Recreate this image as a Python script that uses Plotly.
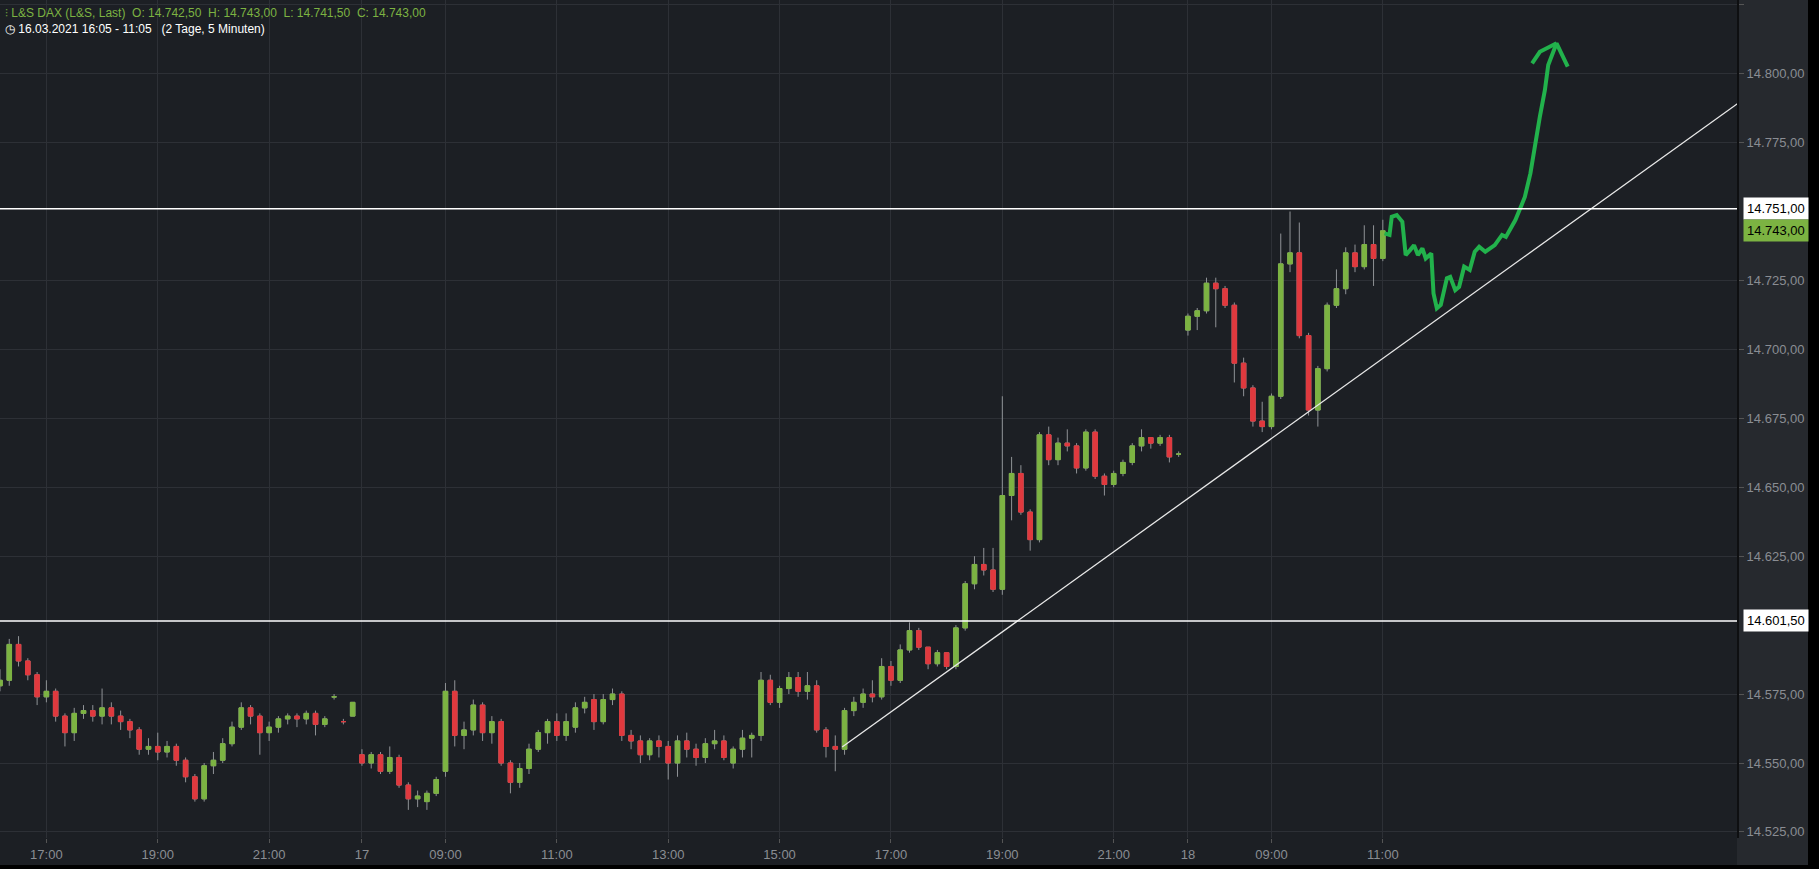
import plotly.graph_objects as go

# ---------------- data (10-minute candles) ----------------
day16_start = "16:10"
d16_open  = [14578,14580,14593,14587,14582,14574,14576,14567,14561,14568,14569,14567,14570,14567,14565,14562,14555,14556,14554,14556,14551,14545,14537,14549,14551,14557,14563,14570,14567,14561,14563,14566,14567,14566,14568,14564,14574,14565,14567]
d16_high  = [14584,14595,14596,14588,14583,14580,14577,14568,14570,14571,14571,14577,14572,14569,14566,14563,14559,14561,14558,14557,14552,14546,14550,14554,14559,14565,14572,14571,14568,14565,14567,14568,14568,14569,14569,14567,14575,14566,14572]
d16_low   = [14576,14578,14585,14580,14571,14572,14565,14556,14558,14566,14565,14564,14564,14562,14559,14553,14553,14551,14552,14549,14543,14536,14536,14546,14550,14556,14562,14564,14553,14558,14561,14564,14563,14564,14560,14563,14573,14564,14567]
d16_close = [14580,14593,14587,14582,14574,14576,14567,14561,14568,14569,14567,14570,14567,14565,14562,14555,14556,14554,14556,14551,14545,14537,14549,14551,14557,14563,14570,14567,14561,14563,14566,14567,14566,14568,14564,14566,14574,14565,14572]

day17_start = "07:30"
d17_open  = [14553,14550,14553,14547,14552,14542,14537,14536,14539,14547,14576,14560,14562,14571,14561,14565,14550,14543,14548,14555,14561,14565,14560,14563,14570,14573,14565,14573,14575,14560,14558,14553,14558,14556,14550,14558,14555,14552,14557,14558,14550,14555,14559,14560,14580,14572,14577,14581,14576,14578,
             14562,14556,14555,14569,14572,14575,14574,14585,14580,14591,14598,14592,14586,14590,14585,14599,14615,14622,14620,14613,14647,14655,14641,14631,14669,14660,14666,14665,14657,14670,14654,14651,14655,14659,14665,14668,14666,14668,14662]
d17_high  = [14555,14554,14554,14556,14553,14543,14540,14540,14545,14579,14580,14565,14573,14572,14567,14566,14551,14550,14557,14562,14566,14568,14568,14572,14574,14575,14575,14577,14576,14562,14560,14559,14560,14558,14560,14561,14557,14559,14562,14560,14556,14562,14561,14583,14582,14578,14583,14583,14583,14580,
             14563,14560,14570,14574,14577,14580,14588,14587,14593,14601,14599,14592,14591,14590,14600,14616,14625,14628,14628,14683,14661,14658,14642,14670,14672,14668,14671,14666,14671,14671,14655,14656,14660,14666,14671,14667,14669,14669,14663]
d17_low   = [14549,14548,14546,14546,14541,14533,14534,14533,14538,14545,14556,14555,14560,14558,14557,14549,14539,14541,14546,14554,14557,14558,14558,14561,14568,14562,14564,14571,14558,14555,14550,14551,14552,14544,14545,14552,14549,14550,14555,14551,14548,14552,14552,14558,14571,14570,14575,14574,14573,14561,
             14552,14547,14553,14567,14570,14572,14573,14578,14579,14590,14591,14584,14585,14584,14584,14598,14613,14618,14612,14611,14638,14640,14627,14630,14658,14658,14663,14655,14656,14653,14647,14650,14654,14658,14663,14664,14665,14659,14661]
d17_close = [14550,14553,14547,14552,14542,14537,14538,14539,14544,14576,14560,14562,14571,14561,14565,14550,14543,14548,14555,14561,14565,14560,14565,14570,14572,14565,14573,14575,14560,14558,14553,14558,14556,14550,14558,14555,14552,14557,14558,14552,14555,14559,14560,14580,14572,14577,14581,14576,14578,14562,
             14556,14555,14569,14572,14575,14574,14585,14580,14591,14598,14592,14586,14590,14585,14599,14615,14622,14620,14613,14647,14655,14641,14631,14669,14660,14666,14665,14657,14670,14654,14651,14655,14659,14665,14668,14666,14668,14661,14662]

day18_start = "07:30"
d18_open  = [14707,14712,14714,14724,14722,14716,14695,14686,14674,14672,14683,14731,14735,14705,14678,14693,14716,14722,14735,14730,14738,14733]
d18_high  = [14713,14715,14726,14726,14723,14717,14697,14687,14681,14684,14742,14750,14746,14706,14694,14717,14729,14737,14738,14745,14745,14747]
d18_low   = [14705,14707,14713,14708,14715,14688,14683,14672,14670,14671,14682,14728,14704,14676,14672,14692,14715,14720,14728,14729,14723,14732]
d18_close = [14712,14714,14724,14722,14716,14695,14686,14674,14672,14683,14731,14735,14705,14678,14693,14716,14722,14735,14730,14738,14733,14743]

tick_labels = ["17:00","19:00","21:00","17","09:00","11:00","13:00","15:00","17:00","19:00","21:00","18","09:00","11:00"]
tick_times  = [("16","17:00"),("16","19:00"),("16","21:00"),("17","07:30"),("17","09:00"),("17","11:00"),("17","13:00"),("17","15:00"),("17","17:00"),("17","19:00"),("17","21:00"),("18","07:30"),("18","09:00"),("18","11:00")]
y_ticks = [14525, 14550, 14575, 14625, 14650, 14675, 14700, 14725, 14775, 14800, 14825]

support_levels = [14751.0, 14601.5]
last_price = 14743.0
trend_p = [14.29, 30.38]
trend_v = [14555.8, 14789.3]
draw_p = [24.03,24.12,24.16,24.25,24.35,24.41,24.49,24.56,24.63,24.71,24.77,24.87,24.91,24.97,25.04,25.15,25.21,25.30,25.37,25.46,25.56,25.65,25.73,25.84,26.01,26.14,26.21,26.38,26.49,26.55,26.65,26.74,26.82,26.91,26.97,27.12,27.32]
draw_v = [14742.1,14741.5,14748.1,14748.7,14746.3,14734.2,14736.0,14737.8,14734.2,14736.6,14733.0,14734.8,14720.3,14714.9,14716.1,14725.8,14726.3,14721.5,14722.7,14730.0,14728.8,14735.4,14737.2,14735.4,14737.8,14741.5,14740.8,14746.9,14752.3,14755.3,14763.8,14775.9,14784.4,14794.0,14803.1,14811.0,14802.5]
head_p = [27.12,26.82,26.68]
head_v = [14811.0,14807.9,14803.7]

# ---------------- axis mapping (compressed trading time) ----------------
day_offset = {"16": -17.0, "17": -1.8333, "18": 13.0}

def hours(s):
    h, m = s.split(":")
    return int(h) + int(m) / 60

def pos(day, t):
    return hours(t) + day_offset[day]

def de(v):
    return f"{v:,.2f}".replace(",", "X").replace(".", ",").replace("X", ".")

xs, O, H, L, C = [], [], [], [], []
for day, start, o, h, l, c in [("16", day16_start, d16_open, d16_high, d16_low, d16_close),
                               ("17", day17_start, d17_open, d17_high, d17_low, d17_close),
                               ("18", day18_start, d18_open, d18_high, d18_low, d18_close)]:
    p0 = pos(day, start)
    for i in range(len(c)):
        xs.append(p0 + i / 6)
        O.append(o[i]); H.append(h[i]); L.append(l[i]); C.append(c[i])

GREEN = "#7cb342"
RED = "#e0393e"
BG = "#1c1f24"
GRID = "#2d3036"

fig = go.Figure()
fig.add_trace(go.Candlestick(x=xs, open=O, high=H, low=L, close=C,
    increasing=dict(line=dict(color="#8f9296", width=1), fillcolor="rgba(0,0,0,0)"),
    decreasing=dict(line=dict(color="#8f9296", width=1), fillcolor="rgba(0,0,0,0)"),
    whiskerwidth=0, showlegend=False, hoverinfo="skip"))
bt = [max(a, b) for a, b in zip(O, C)]
bb = [min(a, b) for a, b in zip(O, C)]
fig.add_trace(go.Candlestick(x=xs, open=O, high=bt, low=bb, close=C,
    increasing=dict(line=dict(color=GREEN, width=1), fillcolor=GREEN),
    decreasing=dict(line=dict(color=RED, width=1), fillcolor=RED),
    whiskerwidth=0, showlegend=False))

fig.add_trace(go.Scatter(x=trend_p, y=trend_v, mode="lines", line=dict(color="#e8e8e8", width=1.3), showlegend=False))
fig.add_trace(go.Scatter(x=draw_p, y=draw_v, mode="lines", line=dict(color="#22b24c", width=4), showlegend=False))
fig.add_trace(go.Scatter(x=head_p, y=head_v, mode="lines", line=dict(color="#22b24c", width=4), showlegend=False))

for lv in support_levels:
    fig.add_hline(y=lv, line=dict(color="white", width=1.6))

tickvals = [pos(d, t) for d, t in tick_times]

fig.update_layout(
    width=1819, height=869, margin=dict(l=0, r=82, t=0, b=31),
    paper_bgcolor=BG, plot_bgcolor=BG,
    font=dict(family="Arial, Liberation Sans, sans-serif", color="#8a8d93", size=13),
    xaxis=dict(range=[-0.833, 30.36], tickvals=tickvals, ticktext=tick_labels, showgrid=True,
               gridcolor=GRID, zeroline=False, rangeslider=dict(visible=False), ticks="outside",
               tickcolor="#555", ticklen=4, fixedrange=True),
    yaxis=dict(range=[14522.8, 14826.7], side="right", tickvals=y_ticks, ticktext=[de(v) for v in y_ticks],
               gridcolor=GRID, zeroline=False, ticks="outside", tickcolor="#555", ticklen=5,
               showline=True, linecolor="#0e0f11", linewidth=2),
)
fig.add_shape(type="rect", xref="paper", yref="paper", x0=1.0, x1=1.0 + 71/1737, y0=-31/838, y1=1,
              fillcolor="#26292e", line_width=0, layer="below")
fig.add_shape(type="rect", xref="paper", yref="paper", x0=1.0 + 71/1737, x1=1.0 + 82/1737, y0=-31/838, y1=1,
              fillcolor="#000000", line_width=0)
fig.add_shape(type="rect", xref="paper", yref="paper", x0=0, x1=1.0 + 82/1737, y0=-31/838, y1=-27/838,
              fillcolor="#000000", line_width=0)

fig.add_annotation(xref="paper", yref="paper", x=0.002, y=1, yshift=-4, xanchor="left", yanchor="top",
                   text="⫶ L&S DAX (L&S, Last)  O: 14.742,50  H: 14.743,00  L: 14.741,50  C: 14.743,00",
                   showarrow=False, font=dict(color=GREEN, size=12))
fig.add_annotation(xref="paper", yref="paper", x=0.002, y=1, yshift=-20, xanchor="left", yanchor="top",
                   text="◷ 16.03.2021 16:05 - 11:05   (2 Tage, 5 Minuten)",
                   showarrow=False, font=dict(color="white", size=12))
for lv in support_levels:
    fig.add_annotation(xref="paper", yref="y", x=1.0, y=lv, xanchor="left", text=de(lv),
                       showarrow=False, bgcolor="white", font=dict(color="black", size=13), xshift=6, borderpad=3)
fig.add_annotation(xref="paper", yref="y", x=1.0, y=last_price, xanchor="left", text=de(last_price),
                   showarrow=False, bgcolor=GREEN, font=dict(color="black", size=13), xshift=6, borderpad=3)

fig.write_html("out.html", config={"displayModeBar": False})
with open("out.html", encoding="utf-8") as f:
    html = f.read()
html = html.replace("<body>", '<body style="margin:0;padding:0;background:#000">', 1)
with open("out.html", "w", encoding="utf-8") as f:
    f.write(html)
